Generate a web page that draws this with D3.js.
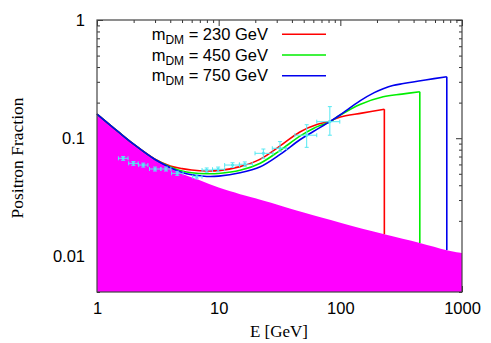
<!DOCTYPE html>
<html><head><meta charset="utf-8">
<script src="https://cdn.jsdelivr.net/npm/d3@7"></script>
<style>body{margin:0;background:#fff}svg{display:block}</style>
</head><body>
<svg id="c" width="491" height="343"></svg>
<script>
// ---- data ----
const bgE   = [1, 1.5, 2, 3, 4, 5, 7, 10, 15, 20, 30, 50, 100, 230, 450, 750, 1000];
const bgV   = [0.16, 0.113, 0.089, 0.066, 0.0555, 0.050, 0.0440, 0.0382, 0.0336, 0.031, 0.0275, 0.0235, 0.0193, 0.0154, 0.013, 0.0113, 0.0107];

const redE  = [1, 1.5, 2, 3, 4, 5, 6, 8, 10, 15, 22, 32, 46.5, 65, 82, 90, 100, 150, 230, 230];
const redV  = [0.16, 0.113, 0.089, 0.0665, 0.0582, 0.0553, 0.0538, 0.0528, 0.0532, 0.0575, 0.0665, 0.086, 0.113, 0.131, 0.139, 0.145, 0.151, 0.163, 0.176, 0.0154];
const greenE = [1, 1.5, 2, 3, 4, 5, 6, 8, 10, 15, 22, 32, 46.5, 60, 82, 100, 145, 225, 320, 450, 450];
const greenV = [0.16, 0.113, 0.089, 0.066, 0.0572, 0.0528, 0.0510, 0.0500, 0.0503, 0.0535, 0.0615, 0.079, 0.104, 0.121, 0.138, 0.157, 0.193, 0.224, 0.236, 0.247, 0.013];
const blueE = [1, 1.5, 2, 3, 4, 5, 6, 8, 10, 15, 22, 32, 46.5, 60, 82, 100, 145, 190, 225, 270, 330, 500, 750, 750];
const blueV = [0.16, 0.113, 0.089, 0.066, 0.0563, 0.0512, 0.0490, 0.0475, 0.0478, 0.051, 0.0574, 0.073, 0.097, 0.114, 0.138, 0.158, 0.207, 0.243, 0.262, 0.279, 0.290, 0.311, 0.331, 0.0113];

const dataE   = [1.64, 1.99, 2.40, 3.0, 3.69, 4.57, 6.6, 7.97, 9.9, 13.0, 16.4, 23.3, 31.9, 52.9, 82];
const dataV   = [0.0676, 0.0613, 0.0593, 0.0549, 0.0549, 0.0505, 0.0472, 0.0538, 0.0546, 0.0593, 0.0602, 0.0745, 0.0822, 0.106, 0.138];
const dataElo = [1.50, 1.82, 2.2, 2.7, 3.35, 4.1, 6.1, 7.3, 8.9, 11.2, 14.8, 19.9, 27.6, 42.3, 64];
const dataEhi = [1.80, 2.18, 2.62, 3.35, 4.05, 5.1, 7.3, 8.9, 11.2, 14.8, 19.0, 28.0, 36.2, 64.0, 99];
const dataVlo = [0.065, 0.059, 0.057, 0.0528, 0.0528, 0.0485, 0.0453, 0.0515, 0.052, 0.0565, 0.0575, 0.0677, 0.0769, 0.0837, 0.106];
const dataVhi = [0.070, 0.0635, 0.0615, 0.057, 0.057, 0.0525, 0.049, 0.056, 0.057, 0.062, 0.063, 0.081, 0.0936, 0.130, 0.185];

const legendMasses = ["230", "450", "750"];
const xTicks = [1, 10, 100, 1000];
const yTicks = [0.01, 0.1, 1];
const yTickLabels = ["0.01", "0.1", "1"];

// ---- layout ----
const svg = d3.select("#c");
const L = 97, R = 462, T = 20, B = 292;
const x = d3.scaleLog().domain([1, 1000]).range([L, R]);
const y = d3.scaleLog().domain([0.005, 1]).range([B, T]);

const colors = ["#ff0000", "#00ee00", "#0000ee"];
const crv = d3.curveCatmullRom.alpha(0.5);

// axes (ticks inward on all sides) — drawn first so the fill covers them
const xMinor = [];
for (let d = 1; d < 1000; d *= 10) for (let m = 2; m <= 9; m++) xMinor.push(d * m);
const yMinor = [];
for (let d = 0.001; d < 1; d *= 10) for (let m = 2; m <= 9; m++) { const v = d * m; if (v >= 0.005 && v < 1) yMinor.push(v); }

const fontTick = "'Liberation Sans', Arial, Helvetica, sans-serif";
function styleAxis(g) {
  g.select(".domain").remove();
  g.selectAll(".tick line").attr("stroke", "#333").attr("stroke-width", 1);
  g.selectAll("text").attr("font-family", fontTick).attr("font-size", 16.5).attr("fill", "#000");
}
const MAJ = 6, MIN = 3;
svg.append("g").attr("transform", `translate(0,${B})`)
  .call(d3.axisBottom(x).tickValues(xTicks).tickFormat(d3.format("d")).tickSizeInner(-MAJ).tickSizeOuter(0).tickPadding(10))
  .call(styleAxis);
svg.append("g").attr("transform", `translate(0,${B})`)
  .call(d3.axisBottom(x).tickValues(xMinor).tickFormat("").tickSizeInner(-MIN).tickSizeOuter(0)).call(styleAxis);
svg.append("g").attr("transform", `translate(0,${T})`)
  .call(d3.axisTop(x).tickValues(xTicks).tickFormat("").tickSizeInner(-MAJ).tickSizeOuter(0)).call(styleAxis);
svg.append("g").attr("transform", `translate(0,${T})`)
  .call(d3.axisTop(x).tickValues(xMinor).tickFormat("").tickSizeInner(-MIN).tickSizeOuter(0)).call(styleAxis);
svg.append("g").attr("transform", `translate(${L},0)`)
  .call(d3.axisLeft(y).tickValues(yTicks).tickFormat((d, i) => yTickLabels[i]).tickSizeInner(-MAJ).tickSizeOuter(0).tickPadding(12))
  .call(styleAxis);
svg.append("g").attr("transform", `translate(${L},0)`)
  .call(d3.axisLeft(y).tickValues(yMinor).tickFormat("").tickSizeInner(-MIN).tickSizeOuter(0)).call(styleAxis);
svg.append("g").attr("transform", `translate(${R},0)`)
  .call(d3.axisRight(y).tickValues(yTicks).tickFormat("").tickSizeInner(-MAJ).tickSizeOuter(0)).call(styleAxis);
svg.append("g").attr("transform", `translate(${R},0)`)
  .call(d3.axisRight(y).tickValues(yMinor).tickFormat("").tickSizeInner(-MIN).tickSizeOuter(0)).call(styleAxis);

// background fill
const bg = bgE.map((e, i) => [e, bgV[i]]);
const area = d3.area().x(d => x(d[0])).y0(B).y1(d => y(d[1])).curve(crv);
svg.append("path").attr("d", area(bg)).attr("fill", "#ff00ff");

// curves
const line = d3.line().x(d => x(d[0])).y(d => y(d[1])).curve(crv);
const straight = d3.line().x(d => x(d[0])).y(d => y(d[1]));
const series = [[redE, redV], [greenE, greenV], [blueE, blueV]];
series.forEach((s, k) => {
  const pts = s[0].map((e, i) => [e, s[1][i]]);
  const smooth = pts.slice(0, pts.length - 1);
  const drop = pts.slice(pts.length - 2);
  const g = svg.append("g").attr("fill", "none").attr("stroke", colors[k]).attr("stroke-width", 1.6);
  g.append("path").attr("d", line(smooth));
  g.append("path").attr("d", straight(drop));
});

// data points with error bars
const ec = "#55e8f2";
const cap = 2;
const dg = svg.append("g").attr("stroke", ec).attr("stroke-width", 1);
dataE.forEach((e, i) => {
  const cx = x(e), cy = y(dataV[i]);
  const x0 = x(dataElo[i]), x1 = x(dataEhi[i]);
  const y0 = y(dataVlo[i]), y1 = y(dataVhi[i]);
  dg.append("line").attr("x1", x0).attr("x2", x1).attr("y1", cy).attr("y2", cy);
  dg.append("line").attr("x1", x0).attr("x2", x0).attr("y1", cy - cap).attr("y2", cy + cap);
  dg.append("line").attr("x1", x1).attr("x2", x1).attr("y1", cy - cap).attr("y2", cy + cap);
  dg.append("line").attr("x1", cx).attr("x2", cx).attr("y1", y0).attr("y2", y1);
  dg.append("line").attr("x1", cx - cap).attr("x2", cx + cap).attr("y1", y0).attr("y2", y0);
  dg.append("line").attr("x1", cx - cap).attr("x2", cx + cap).attr("y1", y1).attr("y2", y1);
  dg.append("circle").attr("cx", cx).attr("cy", cy).attr("r", 1.6).attr("fill", ec).attr("stroke", "none");
});

// frame
svg.append("rect").attr("x", L).attr("y", T).attr("width", R - L).attr("height", B - T)
  .attr("fill", "none").attr("stroke", "#444").attr("stroke-width", 1.2);

// legend
const lg = svg.append("g");
legendMasses.forEach((m, i) => {
  const by = 40 + i * 20.7;
  const t = lg.append("text").attr("x", 268).attr("y", by).attr("text-anchor", "end")
    .attr("font-family", fontTick).attr("font-size", 16.5).attr("fill", "#000");
  t.append("tspan").text("m");
  t.append("tspan").attr("font-size", 12).attr("dy", 4).text("DM");
  t.append("tspan").attr("dy", -4).text(" = " + m + " GeV");
  lg.append("line").attr("x1", 282).attr("x2", 326).attr("y1", by - 5.7).attr("y2", by - 5.7)
    .attr("stroke", colors[i]).attr("stroke-width", 1.6);
});

// axis titles
const fontSerif = "'Liberation Serif', 'Times New Roman', serif";
svg.append("text").attr("x", 279).attr("y", 337).attr("text-anchor", "middle")
  .attr("font-family", fontSerif).attr("font-size", 17).text("E [GeV]");
svg.append("text").attr("transform", "translate(23,158) rotate(-90)").attr("text-anchor", "middle")
  .attr("font-family", fontSerif).attr("font-size", 17.5).text("Positron Fraction");
</script>
</body></html>
